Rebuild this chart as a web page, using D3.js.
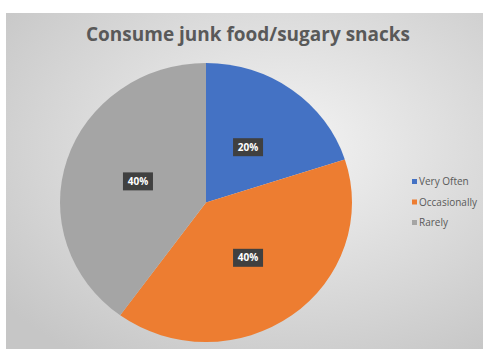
<!DOCTYPE html>
<html>
<head lang="en">
	<meta charset="UTF-8">
	<title>Junk food pie</title>
	<style>
	body { margin: 0; background: #fff; }
	.title { font-family: "Open Sans", sans-serif; font-weight: 700; fill: #595959; }
	.lbl { font-family: "Open Sans", sans-serif; font-weight: 700; fill: #fff; font-size: 10px; }
	.leg { font-family: "Open Sans", sans-serif; fill: #595959; font-size: 10px; }
	</style>
	<script src="https://cdn.jsdelivr.net/npm/d3@7"></script>
</head>
<body>
<script>
	var categories = ["Very Often", "Occasionally", "Rarely"];
	var values = [20, 40, 40];
	var colors = ["#4472C4", "#ED7D31", "#A5A5A5"];
	var labels = ["20%", "40%", "40%"];

	window.onload = function(){
		var width = 483, height = 349;
		var svg = d3.select("body").append("svg")
			.attr("width", width)
			.attr("height", height);

		var defs = svg.append("defs");
		var grad = defs.append("radialGradient")
			.attr("id", "bg")
			.attr("cx", "58%").attr("cy", "40%").attr("r", "75%");
		grad.append("stop").attr("offset", "0%").attr("stop-color", "#f4f4f4");
		grad.append("stop").attr("offset", "100%").attr("stop-color", "#c6c6c6");

		svg.append("rect")
			.attr("x", 6).attr("y", 13)
			.attr("width", width - 6).attr("height", height - 13)
			.attr("fill", "url(#bg)");

		svg.append("text")
			.attr("class", "title")
			.attr("x", 248).attr("y", 41)
			.attr("text-anchor", "middle")
			.attr("font-size", 19)
			.attr("textLength", 324)
			.attr("lengthAdjust", "spacingAndGlyphs")
			.text("Consume junk food/sugary snacks");

		// pie looks a little squashed vertically in the picture
		var cx = 206, cy = 202.5, r = 146, sy = 139.5 / 146;
		var pie = d3.pie().sort(null).value(function(d){ return d; });
		var arc = d3.arc().innerRadius(0).outerRadius(r);
		var arcs = pie(values);

		var g = svg.append("g")
			.attr("transform", "translate(" + cx + "," + cy + ")scale(1," + sy + ")");
		g.selectAll("path")
			.data(arcs)
			.enter().append("path")
			.attr("d", arc)
			.attr("fill", function(d, i){ return colors[i]; });

		// data labels
		var lblArc = d3.arc().innerRadius(r * 0.49).outerRadius(r * 0.49);
		var lg = svg.selectAll("g.lab")
			.data(arcs)
			.enter().append("g")
			.attr("class", "lab")
			.attr("transform", function(d){
				var c = lblArc.centroid(d);
				return "translate(" + (cx + c[0]) + "," + (cy + c[1] * sy) + ")";
			});
		lg.append("rect")
			.attr("x", -15).attr("y", -9)
			.attr("width", 30).attr("height", 18)
			.attr("fill", "#404040");
		lg.append("text")
			.attr("class", "lbl")
			.attr("text-anchor", "middle")
			.attr("dy", "0.36em")
			.text(function(d, i){ return labels[i]; });

		// legend
		var leg = svg.selectAll("g.legi")
			.data(categories)
			.enter().append("g")
			.attr("class", "legi")
			.attr("transform", function(d, i){ return "translate(412," + (182 + i * 20.5) + ")"; });
		leg.append("rect")
			.attr("x", 0).attr("y", -3)
			.attr("width", 5).attr("height", 5)
			.attr("fill", function(d, i){ return colors[i]; });
		leg.append("text")
			.attr("class", "leg")
			.attr("x", 7).attr("dy", "0.32em")
			.text(function(d){ return d; });
	};
</script>
</body>
</html>
